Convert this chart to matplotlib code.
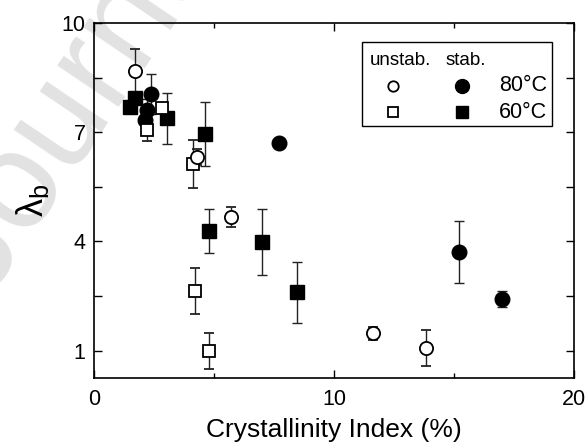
import matplotlib
matplotlib.use("Agg")
import matplotlib.pyplot as plt
from matplotlib.patches import Rectangle
from matplotlib.ticker import FixedLocator

plt.rcParams['font.family'] = ['Liberation Sans', 'DejaVu Sans']

# unstabilised, 80 °C (open circles)
u80_x = [1.71, 4.31, 5.72, 11.61, 13.83]
u80_y = [8.69, 6.31, 4.68, 1.48, 1.08]
u80_e = [0.59, 0.22, 0.28, 0.18, 0.50]

# stabilised, 80 °C (filled circles)
s80_x = [2.36, 2.19, 2.13, 7.71, 15.21, 17.01]
s80_y = [8.05, 7.61, 7.34, 6.70, 3.72, 2.42]
s80_e = [0.55, 0.30, 0.30, 0.10, 0.85, 0.22]

# unstabilised, 60 °C (open squares)
u60_x = [2.19, 2.82, 4.11, 4.22, 4.80]
u60_y = [7.06, 7.66, 6.13, 2.64, 1.00]
u60_e = [0.30, 0.12, 0.67, 0.63, 0.50]

# stabilised, 60 °C (filled squares)
s60_x = [1.50, 1.71, 3.03, 4.63, 4.80, 7.01, 8.44]
s60_y = [7.70, 7.93, 7.38, 6.95, 4.29, 3.98, 2.60]
s60_e = [0.15, 0.15, 0.70, 0.88, 0.61, 0.90, 0.85]

x_ticks = [0, 10, 20]
y_ticks = [1, 4, 7, 10]

fig = plt.figure(figsize=(5.86, 4.44), dpi=100)
ax = fig.add_axes([0.1604, 0.1486, 0.8191, 0.7996])
ax.patch.set_alpha(0)

# faint watermark behind the plot
fig.text(-0.019, 0.324, "Journal Pre-proof", fontsize=100, color="#e2e2e2",
         rotation=56, rotation_mode="anchor", ha="left", va="baseline",
         zorder=-5)

eb = dict(ecolor="#222222", elinewidth=1.0, capsize=3.5, capthick=1.0, ls="none")
ax.errorbar(s60_x, s60_y, yerr=s60_e, marker="s", ms=9.5, mfc="black",
            mec="black", **eb)
ax.errorbar(s80_x, s80_y, yerr=s80_e, marker="o", ms=10.5, mfc="black",
            mec="black", **eb)
ax.errorbar(u60_x, u60_y, yerr=u60_e, marker="s", ms=8, mfc="white",
            mec="black", mew=1.3, **eb)
ax.errorbar(u80_x, u80_y, yerr=u80_e, marker="o", ms=9.5, mfc="white",
            mec="black", mew=1.3, **eb)

ax.set_xlim(0, 20)
ax.set_ylim(0.25, 10)
ax.xaxis.set_major_locator(FixedLocator(x_ticks))
ax.xaxis.set_minor_locator(FixedLocator([5, 15]))
ax.yaxis.set_major_locator(FixedLocator(y_ticks))
ax.yaxis.set_minor_locator(FixedLocator([2.5, 5.5, 8.5]))
ax.tick_params(which="both", direction="in", top=True, right=True,
               labelsize=15.5, width=1.0, color="black")
ax.tick_params(axis="y", which="both", length=6, pad=6)
ax.tick_params(axis="x", which="major", length=6, pad=8)
ax.tick_params(axis="x", which="minor", length=3.5)
for s in ax.spines.values():
    s.set_linewidth(1.2)

ax.set_xlabel("Crystallinity Index (%)", fontsize=19, labelpad=6)
ax.set_ylabel(r"$\mathregular{\lambda_b}$", fontsize=26, labelpad=8)

# legend box drawn in axes coordinates
ax.add_patch(Rectangle((0.558, 0.711), 0.397, 0.236, transform=ax.transAxes,
                       fill=False, lw=1.0, ec="black", zorder=5))
ax.text(0.639, 0.893, "unstab.", transform=ax.transAxes, fontsize=13.5,
        ha="center", va="center", zorder=6)
ax.text(0.774, 0.893, "stab.", transform=ax.transAxes, fontsize=13.5,
        ha="center", va="center", zorder=6)
ax.plot([0.6235], [0.823], "o", ms=7.5, mfc="white", mec="black", mew=1.3,
        transform=ax.transAxes, zorder=6)
ax.plot([0.766], [0.823], "o", ms=10, mfc="black", mec="black",
        transform=ax.transAxes, zorder=6)
ax.plot([0.6235], [0.748], "s", ms=7, mfc="white", mec="black", mew=1.3,
        transform=ax.transAxes, zorder=6)
ax.plot([0.766], [0.748], "s", ms=8.5, mfc="black", mec="black",
        transform=ax.transAxes, zorder=6)
ax.text(0.943, 0.823, "80°C", transform=ax.transAxes, fontsize=15.5,
        ha="right", va="center", zorder=6)
ax.text(0.943, 0.748, "60°C", transform=ax.transAxes, fontsize=15.5,
        ha="right", va="center", zorder=6)

fig.savefig("out.png", dpi=100)
